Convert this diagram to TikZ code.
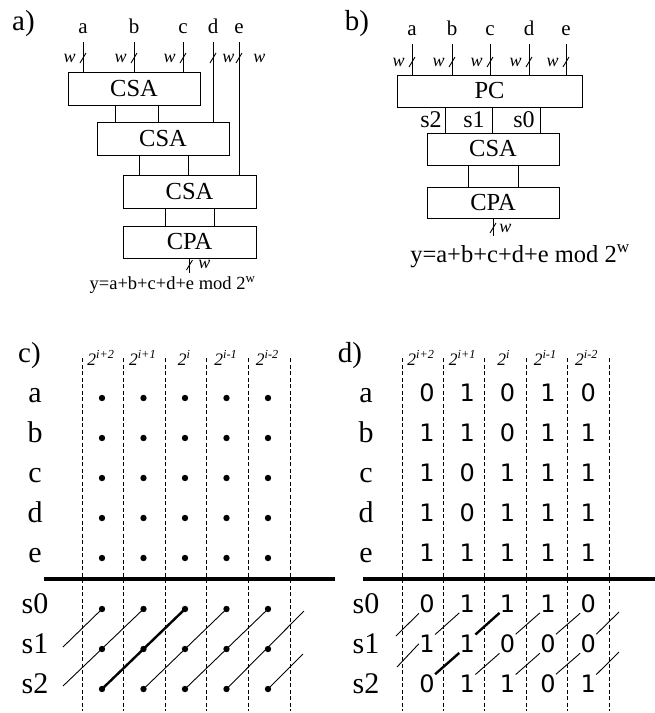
\documentclass[tikz,border=0pt]{standalone}
\usepackage{fontspec}
\setmainfont{Liberation Serif}
\newfontfamily\digitfont{DejaVu Sans}
\usetikzlibrary{calc}

\newcommand{\fsz}[1]{\fontsize{#1}{#1}\selectfont}

\tikzset{
	blk/.style={draw,inner sep=0pt,minimum width=132pt,minimum height=33pt,font=\fsz{24.5}},
	inl/.style={anchor=base,inner sep=1pt,outer ysep=8pt,font=\fsz{21}},
	wl/.style={inner sep=0pt,font=\fsz{18}\itshape},
	frm/.style={anchor=base,inner sep=0pt},
	ttl/.style={anchor=base,inner sep=0pt,font=\fsz{29}},
	rowl/.style={anchor=base,inner sep=0pt,font=\fsz{30}},
	sl/.style={anchor=base,inner sep=0pt,font=\fsz{24}},
	hdr/.style={anchor=base,inner sep=0pt,font=\fsz{17.5}\itshape},
	digit/.style={anchor=base,inner sep=0pt,font=\digitfont\fsz{24}},
	gridl/.style={dash pattern=on 4pt off 2.5pt},
	hot/.style={line width=2.4pt},
	bus/.pic={\draw (-3,5) -- (3,-5);}
}

\begin{document}
\begin{tikzpicture}[x=1pt,y=-1pt,line width=0.9pt]
	\useasboundingbox (0,0) rectangle (655,713);
	% a)
	\node[ttl] (ta) at (23.5,30) {a)};
	\foreach \n/\x in {a/83,b/134,c/183,d/213,e/239}
		\node[inl] (ia-\n) at (\x,33) {\n};
	\node[blk] (csa1) at (134,88.5) {CSA};
	\node[blk] (csa2) at (163,138.5) {CSA};
	\node[blk,minimum width=133pt] (csa3) at (189.5,191.5) {CSA};
	\node[blk,minimum width=133pt,minimum height=32pt] (cpa1) at (189.5,242) {CPA};
	\foreach \n in {a,b,c}{
		\draw (ia-\n.south) -- (ia-\n.south |- csa1.north);
		\node[wl,anchor=east] (wa-\n) at ($(ia-\n |- 0,58)+(-7,0)$) {w};
	}
	\draw (ia-d.south) -- (ia-d.south |- csa2.north);
	\draw (ia-e.south) -- (ia-e.south |- csa3.north);
	\node[wl,anchor=west] (wa-d) at ($(ia-d |- 0,58)+(9,0)$) {w};
	\node[wl,anchor=west] (wa-e) at ($(ia-e |- 0,58)+(14,0)$) {w};
	\foreach \n in {a,...,e}
		\pic at (ia-\n |- 0,58) {bus};
	\foreach \s/\t/\dx in {csa1/csa2/-19,csa1/csa2/24,csa2/csa3/-24,csa2/csa3/25,csa3/cpa1/-24.5,csa3/cpa1/24.5}{
		\coordinate (p) at ($(\s.south)+(\dx,0)$);
		\draw (p) -- (p |- \t.north);
	}
	\coordinate (ya) at (189.5,273);
	\draw (cpa1.south) -- (ya);
	\pic at (cpa1.south |- 0,265) {bus};
	\node[wl,anchor=west] (wa-y) at (198,264) {w};
	\node[frm,font=\fsz{18.5}] (fa) at (172.5,289) {y=a+b+c+d+e mod 2\textsuperscript{w}};

	% b)
	\node[ttl] (tb) at (357,30) {b)};
	\node[blk,minimum width=185pt,minimum height=32pt] (pc) at (489.5,91) {PC};
	\node[blk,minimum height=32pt] (csa4) at (493,149) {CSA};
	\node[blk,minimum height=31pt] (cpa2) at (493,202.5) {CPA};
	\foreach \n/\x in {a/412,b/452,c/490,d/529,e/566}{
		\node[inl] (ib-\n) at (\x,35) {\n};
		\draw (ib-\n.south) -- (ib-\n.south |- pc.north);
		\pic at (ib-\n |- 0,62) {bus};
		\node[wl,anchor=east] (wb-\n) at ($(ib-\n |- 0,62)+(-7,0)$) {w};
	}
	\foreach \s/\x/\lx in {s2/445/431,s1/492/474,s0/540/524}{
		\coordinate (p) at (pc.south -| \x,0);
		\draw (p) -- (p |- csa4.north);
		\node[sl] (lb-\s) at (\lx,127) {\s};
	}
	\foreach \dx in {-25,25}{
		\coordinate (p) at ($(csa4.south)+(\dx,0)$);
		\draw (p) -- (p |- cpa2.north);
	}
	\coordinate (yb) at (493,236);
	\draw (cpa2.south) -- (yb);
	\pic at (cpa2.south |- 0,228) {bus};
	\node[wl,anchor=west] (wb-y) at (499,228) {w};
	\node[frm,font=\fsz{24.5}] (fb) at (520,262) {y=a+b+c+d+e mod 2\textsuperscript{w}};

	% c) and d)
	\node[ttl] (tc) at (29.5,362) {c)};
	\node[ttl] (td) at (350,362) {d)};
	\foreach \k in {0,...,5}{
		\draw[gridl] (82+41.6*\k,358) -- (82+41.6*\k,711);
		\draw[gridl] (402+41.4*\k,358) -- (402+41.4*\k,711);
	}
	\foreach \e [count=\k from 0] in {i+2,i+1,i,i-1,i-2}{
		\node[hdr] (hc-\k) at (101+41.6*\k,365) {2\textsuperscript{\e}};
		\node[hdr] (hd-\k) at (421+41.4*\k,365) {2\textsuperscript{\e}};
	}
	\draw[line width=4pt] (44,579) -- (335,579);
	\draw[line width=4pt] (363,579) -- (655,579);
	\foreach \r/\y/\bits in {a/398/{0,1,0,1,0},b/438/{1,1,0,1,1},c/478/{1,0,1,1,1},d/518/{1,0,1,1,1},e/558/{1,1,1,1,1},s0/609/{0,1,1,1,0},s1/649/{1,1,0,0,0},s2/689/{0,1,1,0,1}}{
		\node[rowl] (rc-\r) at (35,\y+4) {\r};
		\node[rowl] (rd-\r) at (366,\y+4) {\r};
		\foreach \b [count=\k from 0] in \bits{
			\coordinate (c-\r-\k) at (102+41.5*\k,\y);
			\fill (c-\r-\k) circle (3.2pt);
			\node[digit] (d-\r-\k) at (427+40.3*\k,\y+3.5) {\b};
		}
	}
	% c) diagonals
	\coordinate (c-e0) at (63,647);
	\coordinate (c-e1) at (63,686);
	\coordinate (c-e5) at (304,611);
	\coordinate (c-e6) at (303,654);
	\draw (c-s0-0) -- (c-e0);
	\draw (c-s0-1) -- (c-e1);
	\draw[hot] (c-s0-2) -- (c-s2-0);
	\draw (c-s0-3) -- (c-s2-1);
	\draw (c-s0-4) -- (c-s2-2);
	\draw (c-e5) -- (c-s2-3);
	\draw (c-e6) -- (c-s2-4);
	% d) diagonals
	\coordinate (d-e0) at (396,636);
	\coordinate (d-e5) at (619,612);
	\coordinate (d-e6) at (397,667);
	\coordinate (d-e7) at (619,652);
	\draw (d-e0) -- (d-s0-0.south west);
	\draw (d-s1-4.north east) -- (d-e5);
	\draw (d-e6) -- (d-s1-0.west);
	\draw (d-s2-4.north east) -- (d-e7);
	\foreach \p/\q in {0/1,2/3,3/4}
		\draw (d-s1-\p.north east) -- (d-s0-\q.south west);
	\foreach \p/\q in {1/2,2/3,3/4}
		\draw (d-s2-\p.north east) -- (d-s1-\q.south west);
	\draw[hot] (d-s1-1.north east) -- (d-s0-2.south west);
	\draw[hot] (d-s2-0.north east) -- (d-s1-1.south west);
\end{tikzpicture}
\end{document}
